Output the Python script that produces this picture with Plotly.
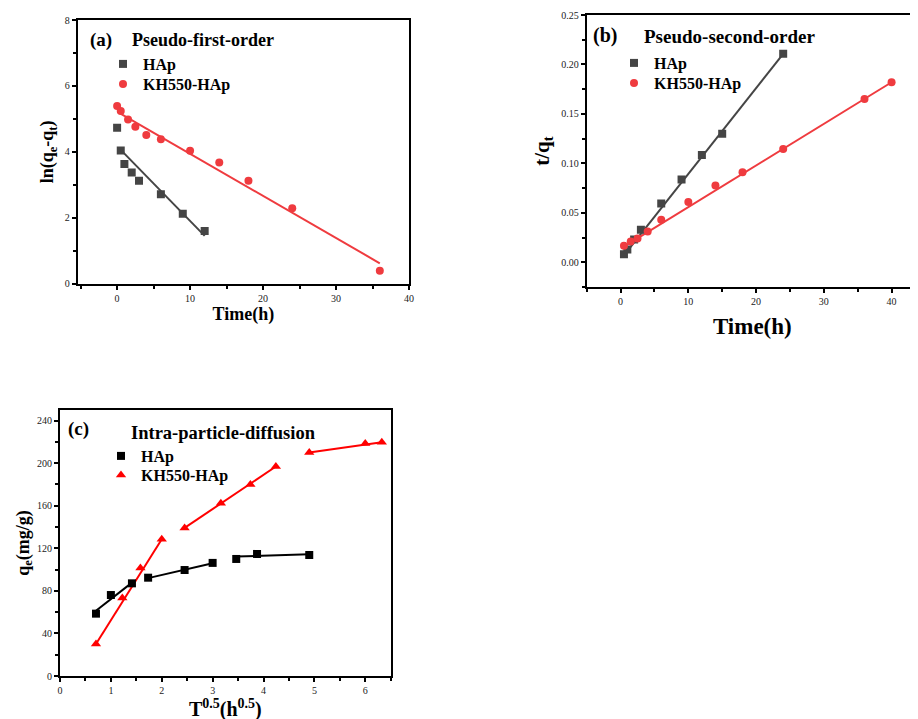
import plotly.graph_objects as go

# (a) pseudo-first-order: ln(qe - qt) vs time
a_hap_t = [0, 0.5, 1, 2, 3, 6, 9, 12]
a_hap_y = [4.73, 4.04, 3.63, 3.37, 3.12, 2.71, 2.12, 1.6]
a_kh_t = [0, 0.5, 1.5, 2.5, 4, 6, 10, 14, 18, 24, 36]
a_kh_y = [5.39, 5.24, 4.98, 4.76, 4.51, 4.38, 4.03, 3.68, 3.12, 2.29, 0.39]
a_hap_fit_t = [0.5, 12]
a_hap_fit_y = [4.06, 1.45]
a_kh_fit_t = [0.4, 36]
a_kh_fit_y = [5.17, 0.62]

# (b) pseudo-second-order: t/qt vs time
b_hap_t = [0.5, 1, 2, 3, 6, 9, 12, 15, 24]
b_hap_y = [0.008, 0.013, 0.023, 0.033, 0.0595, 0.0837, 0.1085, 0.130, 0.2107]
b_kh_t = [0.5, 1.5, 2.5, 4, 6, 10, 14, 18, 24, 36, 40]
b_kh_y = [0.0168, 0.021, 0.024, 0.031, 0.043, 0.061, 0.0776, 0.091, 0.1146, 0.165, 0.182]
b_hap_fit_t = [0.5, 24]
b_hap_fit_y = [0.007, 0.2107]
b_kh_fit_t = [0.5, 40]
b_kh_fit_y = [0.0158, 0.182]

# (c) intra-particle diffusion: qt vs t^0.5
c_hap_x = [0.707, 1.0, 1.414, 1.732, 2.449, 3.0, 3.464, 3.873, 4.899]
c_hap_y = [58.6, 76.1, 87.1, 92.4, 99.6, 106.3, 110.0, 114.7, 113.8]
c_kh_x = [0.707, 1.225, 1.581, 2.0, 2.449, 3.162, 3.742, 4.243, 4.899, 6.0, 6.325]
c_kh_y = [30.1, 73.4, 101.6, 128.5, 139.2, 162.4, 180.0, 196.9, 210.0, 218.5, 219.7]
c_hap_seg_x = [[0.707, 1.44], [1.732, 3.0], [3.464, 4.899]]
c_hap_seg_y = [[61.4, 88.7], [92.0, 106.0], [112.2, 114.4]]
c_kh_seg_x = [[0.707, 2.0], [2.449, 4.243], [4.899, 6.325]]
c_kh_seg_y = [[30.1, 128.5], [139.2, 196.9], [210.0, 219.7]]

GRAY = "#454545"
RED = "#ef3b3f"
FONT = "Liberation Serif"
W, H = 918, 719
OFF = 8  # page body margin in front of the figure


def px(x):
    return (x - OFF) / W


def py(y):
    return 1 - (y - OFF) / H


fig = go.Figure()

# ---- panel (a)
fig.add_trace(go.Scatter(x=a_hap_t, y=a_hap_y, mode="markers", name="<b>HAp</b>",
                         marker=dict(symbol="square", size=8, color=GRAY),
                         xaxis="x", yaxis="y", legend="legend"))
fig.add_trace(go.Scatter(x=a_kh_t, y=a_kh_y, mode="markers", name="<b>KH550-HAp</b>",
                         marker=dict(symbol="circle", size=8, color=RED),
                         xaxis="x", yaxis="y", legend="legend2"))
fig.add_trace(go.Scatter(x=a_hap_fit_t, y=a_hap_fit_y, mode="lines", showlegend=False,
                         line=dict(color=GRAY, width=2), xaxis="x", yaxis="y"))
fig.add_trace(go.Scatter(x=a_kh_fit_t, y=a_kh_fit_y, mode="lines", showlegend=False,
                         line=dict(color=RED, width=2), xaxis="x", yaxis="y"))

# ---- panel (b)
fig.add_trace(go.Scatter(x=b_hap_fit_t, y=b_hap_fit_y, mode="lines", showlegend=False,
                         line=dict(color=GRAY, width=2), xaxis="x2", yaxis="y2"))
fig.add_trace(go.Scatter(x=b_kh_fit_t, y=b_kh_fit_y, mode="lines", showlegend=False,
                         line=dict(color=RED, width=2), xaxis="x2", yaxis="y2"))
fig.add_trace(go.Scatter(x=b_hap_t, y=b_hap_y, mode="markers", name="<b>HAp</b>",
                         marker=dict(symbol="square", size=8, color=GRAY),
                         xaxis="x2", yaxis="y2", legend="legend3"))
fig.add_trace(go.Scatter(x=b_kh_t, y=b_kh_y, mode="markers", name="<b>KH550-HAp</b>",
                         marker=dict(symbol="circle", size=8, color=RED),
                         xaxis="x2", yaxis="y2", legend="legend4"))

# ---- panel (c)
for sx, sy in zip(c_hap_seg_x, c_hap_seg_y):
    fig.add_trace(go.Scatter(x=sx, y=sy, mode="lines", showlegend=False,
                             line=dict(color="black", width=2), xaxis="x3", yaxis="y3"))
for sx, sy in zip(c_kh_seg_x, c_kh_seg_y):
    fig.add_trace(go.Scatter(x=sx, y=sy, mode="lines", showlegend=False,
                             line=dict(color="red", width=2), xaxis="x3", yaxis="y3"))
fig.add_trace(go.Scatter(x=c_hap_x, y=c_hap_y, mode="markers", name="<b>HAp</b>",
                         marker=dict(symbol="square", size=8, color="black"),
                         xaxis="x3", yaxis="y3", legend="legend5"))
fig.add_trace(go.Scatter(x=c_kh_x, y=c_kh_y, mode="markers", name="<b>KH550-HAp</b>",
                         marker=dict(symbol="triangle-up", size=9, color="red"),
                         xaxis="x3", yaxis="y3", legend="legend6"))


def ax(domain, rng, dtick, minor, title, tsize, standoff, anchor, mirror=True, fmt=None):
    d = dict(domain=domain, range=rng, dtick=dtick, anchor=anchor, automargin=False,
             showgrid=False, zeroline=False, showline=True, linecolor="black",
             linewidth=2, mirror=mirror, ticks="outside", ticklen=4, tickwidth=2,
             tickcolor="black", tickfont=dict(family=FONT, size=10, color="#222"),
             minor=dict(dtick=minor, ticks="outside", ticklen=3, tickwidth=1.5,
                        tickcolor="black"),
             title=dict(text=title, font=dict(family=FONT, size=tsize, color="black"),
                        standoff=standoff))
    if fmt:
        d["tickformat"] = fmt
    return d


layout = dict(
    width=W, height=H, margin=dict(l=0, r=0, t=0, b=0),
    paper_bgcolor="white", plot_bgcolor="white",
    xaxis=ax([px(77.7), px(409)], [-5.4, 40], 10, 5, "<b>Time(h)</b>", 18, 5, "y"),
    yaxis=ax([py(283.7), py(20)], [0, 8], 2, 1,
             "<b>ln(q<sub>e</sub>-q<sub>t</sub>)</b>", 18, 6, "x"),
    xaxis2=ax([px(586.7), px(918)], [-5, 43.9], 10, 5, "<b>Time(h)</b>", 23, 12, "y2"),
    yaxis2=ax([py(287), py(15)], [-0.025, 0.25], 0.05, 0.025, "<b>t/q<sub>t</sub></b>", 21, 6,
              "x2", mirror=False, fmt=".2f"),
    xaxis3=ax([px(60), px(390.7)], [0, 6.5], 1, 0.5,
              "<b>T<sup>0.5</sup>(h<sup>0.5</sup>)</b>", 20, 0, "y3"),
    yaxis3=ax([py(676), py(410)], [0, 250], 40, 20, "<b>q<sub>e</sub>(mg/g)</b>", 18, 3, "x3"),
)

# one legend per entry so the rows sit where the reference puts them
legfont = dict(family=FONT, size=16, color="black")
legend_pos = [(103, 63), (103, 83), (614, 62), (614, 82), (101, 455), (101, 474)]
for i, (lx, ly) in enumerate(legend_pos):
    key = "legend" if i == 0 else "legend%d" % (i + 1)
    layout[key] = dict(x=px(lx), y=py(ly - 16), xanchor="left", yanchor="top",
                       font=legfont, bgcolor="rgba(0,0,0,0)")

fig.update_layout(**layout)


def label(xref, yref, x, y, text, size):
    fig.add_annotation(xref=xref, yref=yref, x=x, y=y, text=text, showarrow=False,
                       xanchor="left", yanchor="middle",
                       font=dict(family=FONT, size=size, color="black"))


label("x domain", "y domain", 0.031, 0.924, "<b>(a)</b>", 19)
label("x domain", "y domain", 0.158, 0.924, "<b>Pseudo-first-order</b>", 18)
label("x2 domain", "y2 domain", 0.012, 0.925, "<b>(b)</b>", 20)
label("x2 domain", "y2 domain", 0.166, 0.92, "<b>Pseudo-second-order</b>", 19)
label("x3 domain", "y3 domain", 0.018, 0.93, "<b>(c)</b>", 19)
label("x3 domain", "y3 domain", 0.208, 0.912, "<b>Intra-particle-diffusion</b>", 18.5)

fig.write_html("out.html")
